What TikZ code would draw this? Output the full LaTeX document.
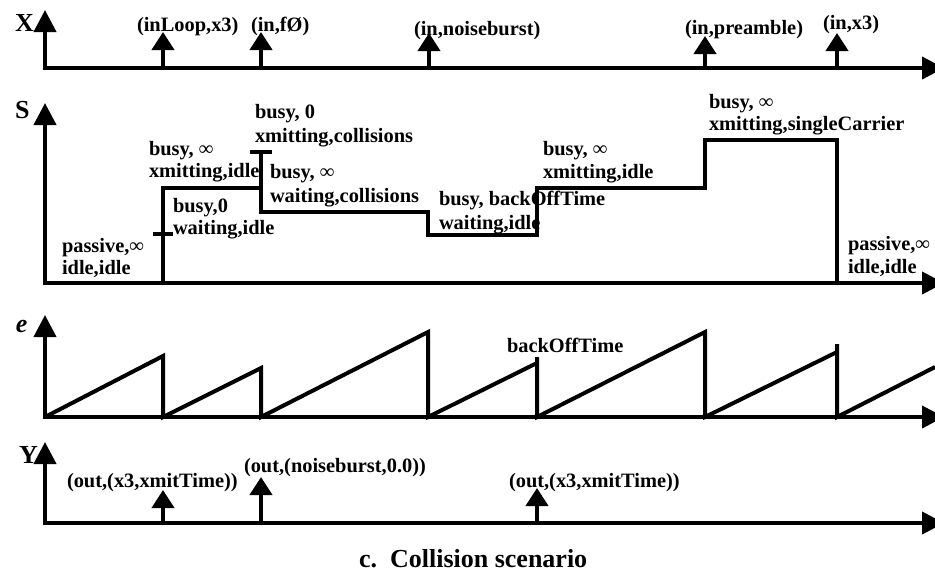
\documentclass[tikz,border=0pt]{standalone}
\usepackage{fontspec}
\setmainfont{Liberation Serif}
\usetikzlibrary{arrows.meta}
\begin{document}
\begin{tikzpicture}[x=0.5pt,y=-0.5pt,
  line width=2pt,
  axis/.style={{Triangle[width=11pt,length=11pt]}-{Triangle[width=11pt,length=11pt]}},
  impulse/.style={-{Triangle[width=11pt,length=9pt]}},
  lbl/.style={font=\fontsize{10.2}{12}\selectfont\bfseries, inner sep=0pt, anchor=base west},
  axlbl/.style={font=\fontsize{13}{15}\selectfont\bfseries, inner sep=0pt, anchor=base west},
  traj/.style={line join=miter}
]
\useasboundingbox (0,0) rectangle (935,575);

% ---------- axis coordinates ----------
\coordinate (xtop) at (45,10);   \coordinate (xo) at (45,68);   \coordinate (xend) at (944,68);
\coordinate (stop) at (45,103);  \coordinate (so) at (45,283);  \coordinate (send) at (944,283);
\coordinate (etop) at (45,315);  \coordinate (eo) at (45,417);  \coordinate (eend) at (944,417);
\coordinate (ytop) at (45,442);  \coordinate (yo) at (45,523);  \coordinate (yend) at (944,523);

\draw[axis] (xtop) |- (xend);
\draw[axis] (stop) |- (send);
\draw[axis] (etop) |- (eend);
\draw[axis] (ytop) |- (yend);

% ---------- axis labels ----------
\node[axlbl] (lX) at (13,31) {X};
\node[axlbl] (lS) at (13,118) {S};
\node[axlbl] (lE) at (14,332) {\itshape e};
\node[axlbl] (lY) at (17,463) {Y};

% ---------- X impulses ----------
\coordinate (x1b) at (163,68); \coordinate (x1t) at (163,32);
\coordinate (x2b) at (261,68); \coordinate (x2t) at (261,32);
\coordinate (x3b) at (429,68); \coordinate (x3t) at (429,33);
\coordinate (x4b) at (705,68); \coordinate (x4t) at (705,36);
\coordinate (x5b) at (837,68); \coordinate (x5t) at (837,33);
\draw[impulse] (x1b) -- (x1t);
\draw[impulse] (x2b) -- (x2t);
\draw[impulse] (x3b) -- (x3t);
\draw[impulse] (x4b) -- (x4t);
\draw[impulse] (x5b) -- (x5t);
\node[lbl] (xl1) at (135,31) {(inLoop,x3)};
\node[lbl] (xl2) at (249,31) {(in,fØ)};
\node[lbl] (xl3) at (412,35) {(in,noiseburst)};
\node[lbl] (xl4) at (683,34) {(in,preamble)};
\node[lbl] (xl5) at (821,29) {(in,x3)};

% ---------- S trajectory ----------
\draw[traj] (163,283) -- (163,188) -- (261,188);
\draw[traj] (261,152) -- (261,212) -- (428,212) -- (428,235) -- (537,235)
  -- (537,188) -- (705,188) -- (705,140) -- (837,140) -- (837,283);
\draw (153,234) -- (173,234);
\draw (250,152) -- (272,152);

\node[lbl] (s1a) at (60,252) {passive,∞};
\node[lbl] (s1b) at (60,274) {idle,idle};
\node[lbl] (s2a) at (147,155) {busy, ∞};
\node[lbl] (s2b) at (147,177) {xmitting,idle};
\node[lbl] (s3a) at (171,212) {busy,0};
\node[lbl] (s3b) at (171,234) {waiting,idle};
\node[lbl] (s4a) at (253,118) {busy, 0};
\node[lbl] (s4b) at (253,142) {xmitting,collisions};
\node[lbl] (s5a) at (268,178) {busy, ∞};
\node[lbl] (s5b) at (268,202) {waiting,collisions};
\node[lbl] (s6a) at (437,205) {busy, backOffTime};
\node[lbl] (s6b) at (437,229) {waiting,idle};
\node[lbl] (s7a) at (541,155) {busy, ∞};
\node[lbl] (s7b) at (541,178) {xmitting,idle};
\node[lbl] (s8a) at (707,108) {busy, ∞};
\node[lbl] (s8b) at (707,130) {xmitting,singleCarrier};
\node[lbl] (s9a) at (846,250) {passive,∞};
\node[lbl] (s9b) at (846,273) {idle,idle};

% ---------- e sawtooth ----------
\draw[traj] (eo) -- (163,356) -- (163,417) -- (261,368) -- (261,417)
  -- (428,332) -- (428,417) -- (537,363);
\draw[traj] (537,357) -- (537,417) -- (705,332) -- (705,417) -- (837,352);
\draw[traj] (837,344) -- (837,417) -- (935,367);
\node[lbl] (eb) at (505,352) {backOffTime};

% ---------- Y impulses ----------
\coordinate (y1b) at (163,523); \coordinate (y1t) at (163,490);
\coordinate (y2b) at (261,523); \coordinate (y2t) at (261,477);
\coordinate (y3b) at (537,523); \coordinate (y3t) at (537,488);
\draw[impulse] (y1b) -- (y1t);
\draw[impulse] (y2b) -- (y2t);
\draw[impulse] (y3b) -- (y3t);
\node[lbl] (yl1) at (65,487) {(out,(x3,xmitTime))};
\node[lbl] (yl2) at (242,472) {(out,(noiseburst,0.0))};
\node[lbl] (yl3) at (507,487) {(out,(x3,xmitTime))};

% ---------- caption ----------
\node[axlbl] (cap) at (357,567) {c.\ \ Collision scenario};
\end{tikzpicture}
\end{document}
